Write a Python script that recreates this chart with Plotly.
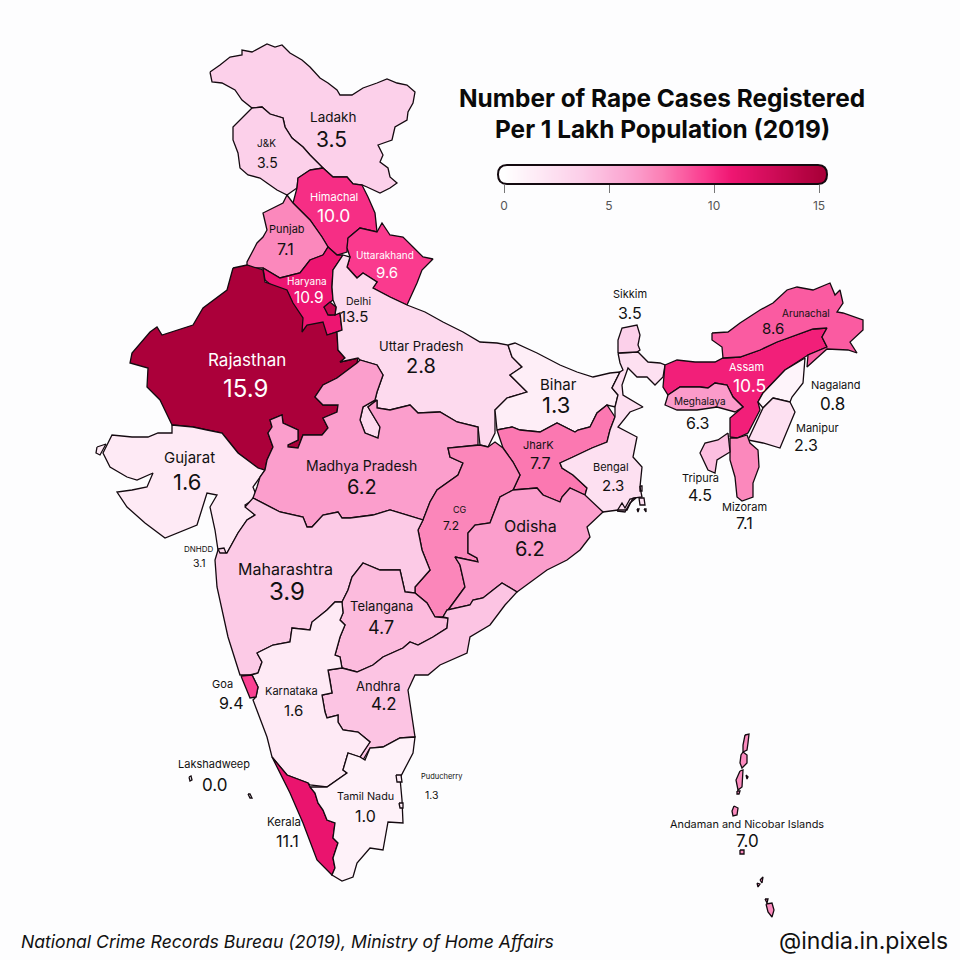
import plotly.graph_objects as go
from plotly.colors import sample_colorscale

# state outlines, in picture pixels (x, y); None starts a new island
ladakh = [(210,72),(220,65),(230,57),(242,55),(242,50),(252,52),(267,44),(275,47),(282,45),(290,53),(302,60),(310,67),(320,78),(328,83),(337,90),(340,95),(352,95),(363,88),(377,83),(387,79),(397,83),(407,85),(415,92),(413,103),(408,112),(407,120),(395,127),(392,140),(378,145),(383,155),(380,162),(388,168),(390,177),(397,183),(390,188),(380,193),(367,187),(362,185),(353,184),(347,177),(333,177),(323,168),(310,155),(303,147),(292,138),(285,127),(283,118),(270,114),(262,107),(252,108),(242,100),(235,90),(222,83),(212,82)]
jammu_kashmir = [(252,108),(262,107),(270,114),(283,118),(285,127),(292,138),(303,147),(310,155),(323,168),(310,170),(298,178),(297,188),(287,195),(277,190),(267,183),(260,178),(248,175),(240,168),(238,153),(233,140),(233,127),(242,118)]
himachal = [(310,170),(323,168),(333,177),(347,177),(353,184),(362,185),(368,197),(375,213),(377,232),(360,228),(348,238),(347,252),(337,255),(328,247),(322,237),(310,220),(293,203),(297,188),(298,178)]
punjab = [(287,195),(293,203),(310,220),(322,237),(328,247),(323,255),(310,260),(300,273),(280,278),(263,268),(247,268),(247,262),(257,243),(263,237),(267,230),(263,213),(283,203)]
haryana = [(323,255),(328,247),(337,255),(343,255),(333,270),(332,287),(333,300),(324,307),(330,315),(340,313),(342,330),(327,335),(320,323),(302,332),(300,320),(288,293),(277,290),(265,280),(263,268),(280,278),(300,273),(310,260)]
delhi = [(324,307),(330,302),(336,307),(335,315),(328,315)]
uttarakhand = [(348,238),(360,228),(377,232),(382,223),(390,235),(403,237),(413,247),(423,257),(433,259),(422,270),(417,283),(407,305),(390,297),(373,288),(377,282),(363,273),(357,278),(347,267),(350,257),(347,248)]
rajasthan = [(233,268),(247,265),(263,270),(265,282),(287,290),(293,303),(303,318),(302,332),(307,325),(323,322),(327,335),(337,332),(338,350),(345,358),(340,362),(358,358),(357,363),(337,378),(323,385),(315,397),(323,405),(338,405),(337,412),(323,418),(328,428),(322,435),(303,435),(298,448),(288,447),(288,445),(298,440),(298,430),(283,423),(282,415),(270,420),(272,427),(268,433),(273,447),(267,460),(265,470),(258,468),(238,453),(230,443),(222,433),(207,430),(193,427),(172,425),(160,400),(147,387),(148,368),(130,363),(132,353),(150,332),(157,327),(162,335),(193,325),(203,308),(227,290)]
gujarat = [(172,425),(172,433),(158,433),(148,437),(132,437),(112,435),(108,443),(103,453),(110,467),(127,477),(137,480),(153,473),(147,487),(132,490),(117,492),(127,507),(145,523),(165,538),(197,525),(203,507),(207,493),(217,495),(210,507),(215,530),(218,550),(227,553),(238,533),(247,520),(255,515),(245,505),(257,497),(253,487),(260,477),(265,470),(258,468),(238,453),(230,443),(222,433),(207,430),(193,427),None,(97,447),(106,444),(100,455),(96,453)]
uttar_pradesh = [(343,255),(333,270),(332,287),(333,300),(336,307),(335,315),(340,313),(342,330),(337,332),(338,350),(345,358),(340,362),(358,358),(360,360),(377,365),(383,375),(377,392),(375,400),(363,407),(360,420),(365,433),(378,438),(380,427),(368,407),(377,400),(377,408),(390,410),(410,405),(418,413),(440,412),(457,422),(478,427),(480,445),(488,447),(495,433),(495,410),(507,398),(527,392),(520,385),(510,375),(522,367),(512,357),(508,345),(497,343),(480,342),(463,332),(443,322),(425,312),(407,305),(390,297),(373,288),(377,282),(363,273),(357,278),(347,267),(350,257)]
bihar = [(508,345),(515,343),(537,353),(560,365),(577,372),(593,377),(610,373),(620,372),(612,388),(618,395),(615,407),(607,405),(597,413),(590,427),(578,430),(575,432),(557,423),(540,432),(520,430),(512,427),(497,430),(495,410),(507,398),(527,392),(520,385),(510,375),(522,367),(512,357)]
jharkhand = [(497,430),(512,427),(520,430),(540,432),(557,423),(575,432),(578,430),(590,427),(597,413),(607,405),(615,417),(610,430),(607,442),(592,448),(573,457),(560,463),(562,468),(573,475),(587,488),(585,495),(570,488),(562,497),(560,502),(543,495),(537,488),(513,490),(520,475),(513,462),(503,448)]
bengal = [(618,353),(638,352),(648,362),(660,363),(665,365),(663,377),(655,385),(647,377),(637,377),(628,368),(622,385),(623,395),(643,407),(630,412),(618,427),(637,437),(633,457),(642,467),(640,487),(642,497),(633,498),(627,510),(618,510),(603,512),(587,502),(585,495),(587,488),(573,475),(562,468),(560,463),(573,457),(592,448),(607,442),(610,430),(615,417),(615,407),(618,395),(612,388),(620,372),(623,370),(620,363),None,(640,486),(642,486),(642,491),(640,491),None,(639,498),(644,498),(645,505),(640,505),None,(637,509),(639,509),(638,512),None,(644,509),(646,509),(646,512),None,(617,511),(622,503),(625,508),(630,499),(636,498),(630,503),(625,512)]
sikkim = [(618,353),(618,340),(622,328),(637,325),(640,335),(638,345),(640,350),(637,352)]
madhya_pradesh = [(357,363),(360,360),(377,365),(383,375),(377,392),(375,400),(363,407),(360,420),(365,433),(378,438),(380,427),(368,407),(377,400),(377,408),(390,410),(410,405),(418,413),(440,412),(457,422),(478,427),(478,445),(448,448),(450,457),(463,463),(458,475),(437,490),(430,502),(423,520),(407,515),(390,510),(373,515),(350,518),(342,518),(338,512),(323,515),(312,527),(307,527),(303,517),(280,512),(267,505),(253,498),(257,487),(260,477),(265,470),(267,460),(273,447),(268,433),(272,427),(270,420),(282,415),(283,423),(298,430),(298,440),(288,445),(288,447),(298,448),(303,435),(322,435),(328,428),(323,418),(337,412),(338,405),(323,405),(315,397),(323,385),(337,378)]
chhattisgarh = [(480,445),(448,448),(450,457),(463,463),(458,475),(437,490),(430,502),(423,520),(418,530),(422,550),(430,570),(415,587),(415,593),(427,603),(435,617),(443,617),(465,587),(460,565),(455,557),(478,562),(477,558),(468,553),(468,533),(475,525),(490,523),(500,497),(513,490),(520,475),(513,462),(503,448),(495,442),(488,447)]
odisha = [(513,490),(537,488),(543,495),(560,502),(562,497),(570,488),(585,495),(603,512),(587,527),(590,537),(580,550),(567,560),(547,570),(530,583),(517,592),(502,583),(493,590),(483,598),(473,600),(470,605),(447,610),(443,617),(465,587),(460,565),(455,557),(478,562),(477,558),(468,553),(468,533),(475,525),(490,523),(500,497)]
maharashtra = [(218,550),(215,560),(217,587),(228,637),(240,675),(250,675),(258,673),(262,662),(257,653),(273,645),(290,642),(292,628),(310,630),(312,622),(327,610),(335,602),(342,602),(348,590),(352,577),(363,563),(380,570),(400,570),(405,592),(415,593),(415,587),(430,570),(422,550),(418,530),(423,520),(407,515),(390,510),(373,515),(350,518),(342,518),(338,512),(323,515),(312,527),(307,527),(303,517),(280,512),(267,505),(253,498),(245,507),(255,515),(247,520),(238,533),(227,553)]
telangana = [(342,602),(348,590),(352,577),(363,563),(380,570),(400,570),(405,592),(415,593),(427,603),(435,617),(448,618),(447,628),(433,637),(418,645),(410,642),(403,648),(383,657),(373,665),(357,672),(342,668),(340,657),(335,655),(340,637),(345,625),(340,620),(343,613)]
andhra = [(328,670),(342,668),(357,672),(373,665),(383,657),(403,648),(410,642),(418,645),(433,637),(447,628),(448,618),(443,617),(447,610),(470,605),(473,600),(483,598),(493,590),(502,583),(517,592),(505,605),(490,625),(470,637),(467,653),(440,665),(428,675),(415,675),(408,690),(412,717),(415,737),(400,738),(383,747),(370,748),(363,760),(360,757),(370,742),(358,732),(343,730),(338,722),(338,715),(327,718),(325,712),(322,695),(332,693),(330,680)]
karnataka = [(257,653),(273,645),(290,642),(292,628),(310,630),(312,622),(327,610),(335,602),(342,602),(343,613),(340,620),(345,625),(340,637),(335,655),(340,657),(342,668),(328,670),(330,680),(332,693),(322,695),(325,712),(327,718),(338,715),(338,722),(343,730),(358,732),(370,742),(360,757),(348,753),(343,770),(347,773),(327,787),(310,785),(308,783),(287,775),(272,757),(267,737),(253,700),(256,697),(258,687),(252,675),(258,673),(262,662)]
goa = [(241,676),(252,675),(258,687),(256,697),(250,698),(245,685)]
kerala = [(272,757),(287,775),(308,783),(310,787),(315,793),(318,803),(323,810),(327,820),(335,823),(333,838),(338,843),(333,858),(335,868),(332,875),(317,860),(303,823),(290,793)]
tamil_nadu = [(310,787),(327,787),(347,773),(343,770),(348,753),(360,757),(365,760),(370,748),(383,747),(400,738),(415,737),(413,753),(400,778),(402,800),(403,823),(388,822),(383,850),(370,848),(357,863),(353,877),(342,881),(332,875),(335,868),(333,858),(338,843),(333,838),(335,823),(327,820),(323,810),(318,803),(315,793)]
assam = [(665,365),(677,360),(695,362),(715,362),(723,358),(740,357),(760,350),(777,342),(813,329),(827,328),(822,337),(827,347),(808,355),(785,370),(763,393),(758,402),(760,410),(748,433),(737,438),(730,437),(730,418),(743,407),(733,397),(727,385),(715,383),(708,388),(700,387),(680,387),(668,395),(663,387)]
arunachal = [(712,333),(728,332),(740,323),(760,310),(773,303),(787,290),(797,287),(813,290),(830,283),(835,295),(840,290),(843,303),(837,312),(843,313),(863,320),(863,330),(850,342),(857,353),(848,350),(827,349),(807,367),(808,355),(827,347),(822,337),(827,328),(813,329),(777,342),(760,350),(740,357),(723,358),(722,347),(712,340)]
nagaland = [(805,358),(803,383),(792,397),(790,402),(773,398),(763,408),(758,402),(763,393),(785,370)]
manipur = [(773,398),(790,402),(795,412),(780,448),(763,443),(748,440),(763,408)]
meghalaya = [(668,395),(680,387),(700,387),(708,388),(715,383),(727,385),(733,397),(743,407),(735,412),(717,407),(697,410),(677,410),(665,405)]
mizoram = [(730,438),(737,438),(747,435),(750,443),(758,450),(759,467),(753,483),(753,497),(742,501),(737,497),(735,477),(730,460)]
tripura = [(728,433),(730,452),(717,460),(715,473),(708,470),(700,453),(705,443),(718,440)]
andaman = [(745,735),(749,734),(748,743),(747,750),(743,752),(743,745),None,(743,752),(747,755),(747,763),(742,768),(740,763),(741,755),None,(740,771),(743,770),(742,787),(738,790),(736,780),None,(737,791),(740,791),(739,794),(737,794),None,(734,806),(738,808),(737,815),(733,816),(732,811),None,(740,850),(744,850),(744,854),(740,854),None,(760,880),(763,877),(762,883),None,(757,883),(760,884),(758,887),None,(766,904),(772,903),(774,910),(772,917),(768,912),None,(765,899),(768,899),(767,903),None,(746,775),(748,777),(747,779)]
lakshadweep = [(189,777),(191,776),(192,780),(190,781),None,(248,794),(250,794),(252,798),(250,798)]
puducherry = [(396,775),(401,775),(402,782),(397,782),None,(399,803),(403,803),(403,808),(400,808)]
dnhdd = [(218,549),(224,548),(226,553),(220,553)]

state_names = ["Ladakh", "J&K", "Himachal", "Punjab", "Haryana", "Uttarakhand", "Rajasthan", "Gujarat",
               "Uttar Pradesh", "Bihar", "JharK", "Bengal", "Sikkim", "Madhya Pradesh", "CG", "Odisha",
               "Maharashtra", "Telangana", "Andhra", "Karnataka", "Goa", "Kerala", "Tamil Nadu", "Assam",
               "Arunachal", "Nagaland", "Manipur", "Meghalaya", "Mizoram", "Tripura", "Delhi",
               "Andaman and Nicobar Islands", "Lakshadweep", "Puducherry", "DNHDD"]
state_values = [3.5, 3.5, 10.0, 7.1, 10.9, 9.6, 15.9, 1.6,
                2.8, 1.3, 7.7, 2.3, 3.5, 6.2, 7.2, 6.2,
                3.9, 4.7, 4.2, 1.6, 9.4, 11.1, 1.0, 10.5,
                8.6, 0.8, 2.3, 6.3, 7.1, 4.5, 13.5,
                7.0, 0.0, 1.3, 3.1]
state_outlines = [ladakh, jammu_kashmir, himachal, punjab, haryana, uttarakhand, rajasthan, gujarat,
                  uttar_pradesh, bihar, jharkhand, bengal, sikkim, madhya_pradesh, chhattisgarh, odisha,
                  maharashtra, telangana, andhra, karnataka, goa, kerala, tamil_nadu, assam,
                  arunachal, nagaland, manipur, meghalaya, mizoram, tripura, delhi,
                  andaman, lakshadweep, puducherry, dnhdd]

# name x, name y, name size, value x, value y, value size, text colour
label_layout = {
    "Ladakh": (333, 117, 13.5, 331, 139, 21, "#111"),
    "J&K": (266, 143, 10, 267, 162, 14, "#111"),
    "Himachal": (334, 197, 11, 333, 215, 17.5, "white"),
    "Punjab": (287, 229, 11, 285, 249, 16, "#111"),
    "Haryana": (307, 281, 10, 309, 297, 15.5, "white"),
    "Uttarakhand": (385, 255, 10, 387, 272, 15, "white"),
    "Rajasthan": (247, 360, 17, 245, 388, 24, "white"),
    "Gujarat": (189, 457, 15, 187, 482, 22, "#111"),
    "Uttar Pradesh": (421, 346, 13, 421, 366, 20, "#111"),
    "Bihar": (558, 384, 15, 556, 405, 22, "#111"),
    "JharK": (538, 445, 11, 540, 463, 16, "#111"),
    "Bengal": (611, 467, 11, 613, 485, 15, "#111"),
    "Sikkim": (630, 294, 11, 630, 313, 16, "#111"),
    "Madhya Pradesh": (361, 465, 14, 362, 487, 20, "#111"),
    "CG": (460, 509, 9, 451, 525, 12, "#111"),
    "Odisha": (530, 526, 16, 530, 549, 20, "#111"),
    "Maharashtra": (285, 569, 16, 287, 591, 24, "#111"),
    "Telangana": (381, 606, 13, 381, 627, 18, "#111"),
    "Andhra": (378, 686, 13, 384, 704, 17, "#111"),
    "Karnataka": (291, 691, 11, 293, 710, 15, "#111"),
    "Goa": (222, 684, 11, 231, 703, 16, "#111"),
    "Kerala": (284, 822, 11.5, 287, 841, 16, "#111"),
    "Tamil Nadu": (365, 796, 10.8, 365, 816, 16, "#111"),
    "Assam": (746, 367, 11, 749, 385, 17.5, "white"),
    "Arunachal": (806, 313, 10, 773, 328, 15, "#111"),
    "Nagaland": (835, 385, 11, 832, 404, 17, "#111"),
    "Manipur": (817, 428, 11, 806, 445, 16, "#111"),
    "Meghalaya": (700, 401, 10, 697, 423, 16, "#111"),
    "Mizoram": (744, 507, 11, 744, 523, 16, "#111"),
    "Tripura": (700, 478, 11, 700, 495, 16, "#111"),
    "Delhi": (358, 301, 10.5, 354, 316, 15, "#111"),
    "Andaman and Nicobar Islands": (747, 824, 10.9, 747, 841, 17, "#111"),
    "Lakshadweep": (214, 764, 11, 214, 785, 17, "#111"),
    "Puducherry": (442, 776, 7.5, 432, 795, 10.5, "#111"),
    "DNHDD": (199, 549, 8, 199, 563, 10.5, "#111"),
}

bar_ticks = [0, 5, 10, 15]
bar_steps = [i * 0.25 for i in range(-2, 63)]

pink_scale = [[0, "#ffffff"], [0.25, "#fccde8"], [0.41, "#fb9fcd"], [0.5, "#fb7fb5"],
              [0.64, "#fa3a8e"], [0.72, "#ef1672"], [1, "#ab003a"]]
bg = "#fdfdfe"
font = "Inter"


def split_xy(points):
    # close every ring so the border line goes all the way round
    xs, ys = [], []
    first = None
    for p in points + [None]:
        if p is None:
            xs += [first[0], None]
            ys += [first[1], None]
            first = None
        else:
            first = first or p
            xs.append(p[0])
            ys.append(p[1])
    return xs, ys


fig = go.Figure()

for name, value, outline in zip(state_names, state_values, state_outlines):
    xs, ys = split_xy(outline)
    color = sample_colorscale(pink_scale, [min(value / 15, 1)])[0]
    fig.add_trace(go.Scatter(x=xs, y=ys, mode="lines", fill="toself", fillcolor=color,
                             line=dict(color="#140a10", width=1.3), name=name, hoverinfo="name"))

# legend bar gets its own small axes so that 0-15 sits on a real scale
fig.add_trace(go.Heatmap(x=bar_steps, y=[0, 1], z=[bar_steps, bar_steps], xaxis="x2", yaxis="y2",
                         colorscale=pink_scale, zmin=0, zmax=15, showscale=False, zsmooth="best",
                         hoverinfo="skip"))

for name, value in zip(state_names, state_values):
    nx, ny, nsize, vx, vy, vsize, col = label_layout[name]
    fig.add_annotation(x=nx, y=ny, text=name, showarrow=False, borderpad=0, font=dict(size=nsize, color=col))
    fig.add_annotation(x=vx, y=vy, text=f"{value:.1f}", showarrow=False, borderpad=0, font=dict(size=vsize, color=col))

fig.add_annotation(x=662, y=98, text="<b>Number of Rape Cases Registered</b>", showarrow=False,
                   font=dict(size=24.4, color="#0a0a0a"))
fig.add_annotation(x=662, y=129, text="<b>Per 1 Lakh Population (2019)</b>", showarrow=False,
                   font=dict(size=24.4, color="#0a0a0a"))
fig.add_annotation(x=19, y=941, xanchor="left", text="<i>National Crime Records Bureau (2019), Ministry of Home Affairs</i>",
                   showarrow=False, font=dict(size=17.6, color="#111"))
fig.add_annotation(x=950, y=941, xanchor="right", text="@india.in.pixels", showarrow=False,
                   font=dict(size=23, color="#111"))

# rounded frame of the legend bar, right corners masked with the page colour
fig.add_shape(type="path", path="M 818 165 L 828 165 L 828 184 L 818 184 Q 827 184 827 174.5 Q 827 165 818 165 Z",
              fillcolor=bg, line=dict(width=0), layer="above")
fig.add_shape(type="path", path="M 507 165 L 818 165 Q 827 165 827 174.5 Q 827 184 818 184 L 507 184 Q 498 184 498 174.5 Q 498 165 507 165 Z",
              line=dict(color="#140a10", width=2), layer="above")

fig.update_layout(
    width=960, height=960, margin=dict(l=0, r=0, t=0, b=0), showlegend=False,
    paper_bgcolor=bg, plot_bgcolor=bg, font=dict(family=font, color="#111"),
    xaxis=dict(range=[0, 960], visible=False),
    yaxis=dict(range=[960, 0], visible=False),
    xaxis2=dict(domain=[498 / 960, 827 / 960], range=[-6 / 21, 15 + 8 / 21], anchor="y2",
                tickvals=bar_ticks, ticks="outside", ticklen=8, tickcolor="#777", showgrid=False,
                zeroline=False, tickfont=dict(size=12, color="#555", family=font), showline=False,
                ticklabelstandoff=3),
    yaxis2=dict(domain=[1 - 184 / 960, 1 - 165 / 960], range=[0, 1], anchor="x2", visible=False),
)

fig.write_html("out.html", post_script="document.body.style.margin='0';", config=dict(displayModeBar=False))
